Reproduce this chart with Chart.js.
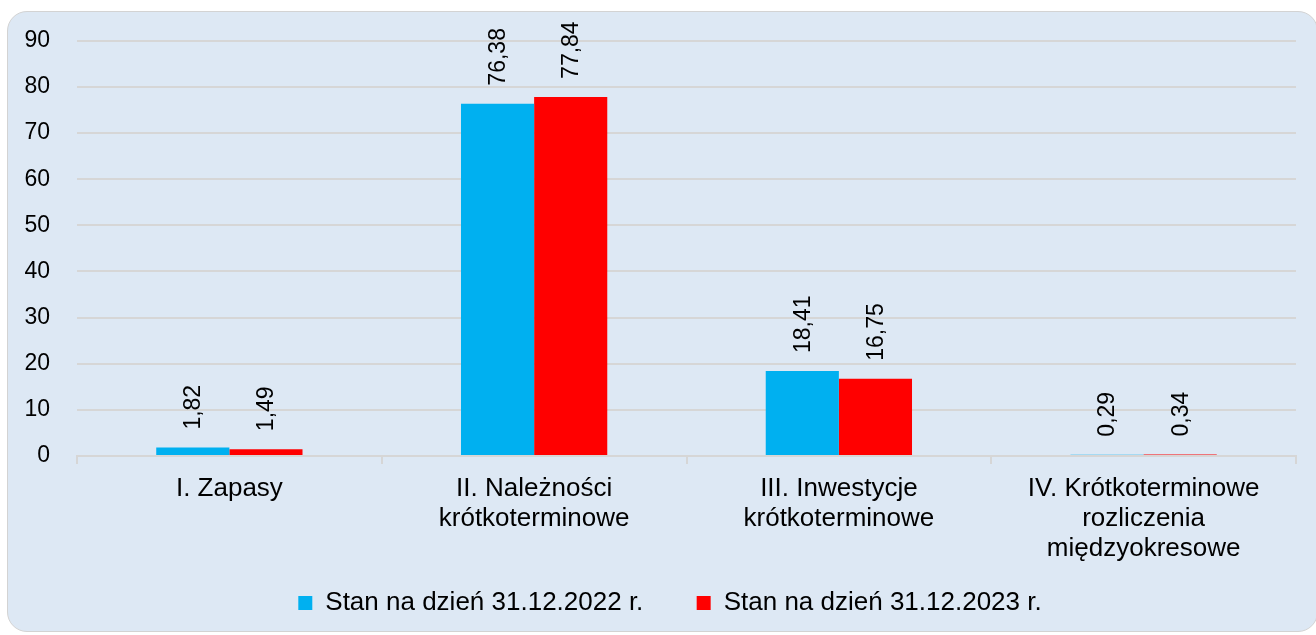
<!DOCTYPE html>
<html>
<head>
<meta charset="utf-8">
<script src="https://cdn.jsdelivr.net/npm/chart.js@4.4.0/dist/chart.umd.min.js"></script>
<style>
  body { margin: 0; background: #fff; }
  #frame {
    position: absolute; left: 7px; top: 11px; width: 1311px; height: 621px;
    background: #dde8f4; border: 1.5px solid #d3d3d3; border-radius: 20px;
    box-sizing: border-box;
  }
  #wrap { position: absolute; left: 0; top: 0; width: 1316px; height: 635px; }
</style>
</head>
<body>
<div id="frame"></div>
<div id="wrap"><canvas id="chart" width="1316" height="635"></canvas></div>
<script>
const categories = [
  ['I. Zapasy'],
  ['II. Należności', 'krótkoterminowe'],
  ['III. Inwestycje', 'krótkoterminowe'],
  ['IV. Krótkoterminowe', 'rozliczenia', 'międzyokresowe'],
]
const seriesNames = ['Stan na dzień 31.12.2022 r.', 'Stan na dzień 31.12.2023 r.']
const values2022 = [1.82, 76.38, 18.41, 0.29]
const values2023 = [1.49, 77.84, 16.75, 0.34]
const yTicks = [0, 10, 20, 30, 40, 50, 60, 70, 80, 90]

const FONT = "'Liberation Sans', Arial, sans-serif"

// rotated value labels above each bar
const barLabels = {
  id: 'barLabels',
  afterDatasetsDraw(chart) {
    const ctx = chart.ctx
    ctx.save()
    ctx.font = '23px ' + FONT
    ctx.fillStyle = '#000'
    ctx.textAlign = 'left'
    ctx.textBaseline = 'middle'
    chart.data.datasets.forEach((ds, i) => {
      chart.getDatasetMeta(i).data.forEach((bar, j) => {
        const txt = ds.data[j].toFixed(2).replace('.', ',')
        ctx.save()
        ctx.translate(bar.x, bar.y - 18)
        ctx.rotate(-Math.PI / 2)
        ctx.fillText(txt, 0, 1)
        ctx.restore()
      })
    })
    ctx.restore()
  }
}

const ctx = document.getElementById('chart').getContext('2d')
new Chart(ctx, {
  type: 'bar',
  data: {
    labels: categories,
    datasets: [
      {
        label: seriesNames[0] + '      ',
        data: values2022,
        backgroundColor: '#00b0f0',
        categoryPercentage: 0.48,
        barPercentage: 1,
      },
      {
        label: seriesNames[1],
        data: values2023,
        backgroundColor: '#ff0000',
        categoryPercentage: 0.48,
        barPercentage: 1,
      },
    ],
  },
  options: {
    responsive: false,
    animation: false,
    layout: { padding: { left: 24, right: 0, top: 40, bottom: 9 } },
    plugins: {
      tooltip: { enabled: false },
      legend: {
        position: 'bottom',
        labels: {
          boxWidth: 14,
          boxHeight: 14,
          padding: 10,
          color: '#000',
          font: { family: FONT, size: 26 },
        },
      },
    },
    scales: {
      x: {
        offset: true,
        grid: {
          offset: true,
          drawOnChartArea: false,
          drawTicks: true,
          tickLength: 8,
          color: '#d6d6d6',
          lineWidth: 2,
        },
        border: { display: true, color: '#d6d6d6', width: 2 },
        ticks: {
          color: '#000',
          padding: 10,
          maxRotation: 0,
          autoSkip: false,
          font: { family: FONT, size: 26, lineHeight: 1.15 },
        },
        afterFit(scale) { scale.height = 124 },
      },
      y: {
        min: 0,
        max: 90,
        afterBuildTicks(scale) { scale.ticks = yTicks.map(v => ({ value: v })) },
        grid: { color: '#d6d6d6', lineWidth: 2, drawTicks: false },
        border: { display: false },
        ticks: {
          color: '#000',
          padding: 27,
          font: { family: FONT, size: 23 },
        },
        afterFit(scale) { scale.width = 53 },
      },
      // empty strip on the right so the plot ends where the reference does
      yRight: {
        type: 'linear',
        position: 'right',
        grid: { display: false },
        border: { display: false },
        ticks: { display: false },
        afterFit(scale) { scale.width = 20 },
      },
    },
  },
  plugins: [barLabels],
})
</script>
</body>
</html>
